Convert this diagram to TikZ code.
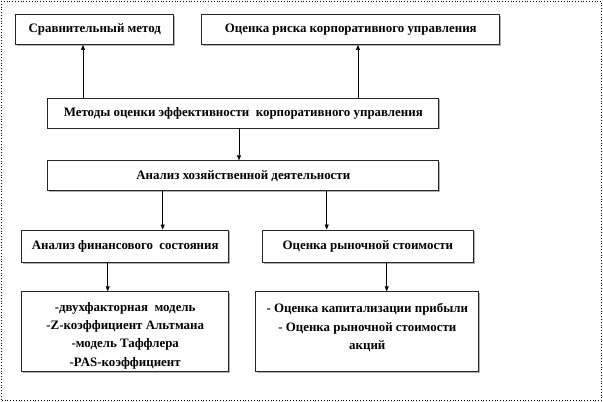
\documentclass[tikz,border=0pt]{standalone}
\usepackage{fontspec}
\setmainfont{Liberation Serif}
\usetikzlibrary{arrows.meta}
\usetikzlibrary{shadows}
\newcommand{\zeilehoch}{\rule{0pt}{17pt}}

\tikzset{
  kasten/.style={draw=black!85, line width=0.9pt, fill=white, align=center,
    font=\bfseries\fontsize{12.9pt}{18.3pt}\selectfont, inner sep=2pt,
    drop shadow={shadow xshift=1.3pt, shadow yshift=-1.3pt, fill=black!30, opacity=1}},
  pfeil/.style={-{Triangle[length=5pt,width=4pt]}, line width=0.5pt},
}

\begin{document}
\begin{tikzpicture}[x=1pt, y=-1pt]

  \useasboundingbox (0,0) rectangle (603,402);

  % Rahmen
  \draw[dotted, line width=0.8pt] (1,1) rectangle (601.5,400.5);

  % Kaesten oben
  \node[kasten, minimum width=158pt, minimum height=30pt] (vergl) at (94.8,29.5) {Сравнительный метод};
  \node[kasten, minimum width=298pt, minimum height=30pt] (risiko) at (350.8,29.5) {Оценка риска корпоративного управления};

  % Kaesten Mitte
  \node[kasten, minimum width=391pt, minimum height=30pt] (methoden) at (243.3,113) {Методы оценки эффективности\ \ корпоративного управления};
  \node[kasten, minimum width=391pt, minimum height=30pt] (analyse) at (243.3,175.7) {Анализ хозяйственной деятельности};

  % Kaesten unten
  \node[kasten, minimum width=207pt, minimum height=32.7pt] (finanz) at (125.2,246.3) {Анализ финансового\ \ состояния};
  \node[kasten, minimum width=211pt, minimum height=32.7pt] (markt) at (367.8,246.3) {Оценка рыночной стоимости};
  \node[kasten, minimum width=207pt, minimum height=80pt] (modelle) at (125.2,331.7)
    {\zeilehoch-двухфакторная\ \ модель\\-Z-коэффициент Альтмана\\-модель Таффлера\\-PAS-коэффициент};
  \node[kasten, minimum width=223pt, minimum height=80pt] (bewert) at (367.3,331.7)
    {\zeilehoch- Оценка капитализации прибыли\\- Оценка рыночной стоимости\\акций\\\mbox{}};

  % Pfeile
  \draw[pfeil] (methoden.north -| 83,0) -- (vergl.south -| 83,0);
  \draw[pfeil] (methoden.north -| 358,0) -- (risiko.south -| 358,0);
  \draw[pfeil] (methoden.south -| 239,0) -- (analyse.north -| 239,0);
  \draw[pfeil] (analyse.south -| 162.7,0) -- (finanz.north -| 162.7,0);
  \draw[pfeil] (analyse.south -| 326.7,0) -- (markt.north -| 326.7,0);
  \draw[pfeil] (finanz.south -| 107.7,0) -- (modelle.north -| 107.7,0);
  \draw[pfeil] (markt.south -| 386.7,0) -- (bewert.north -| 386.7,0);

\end{tikzpicture}
\end{document}
